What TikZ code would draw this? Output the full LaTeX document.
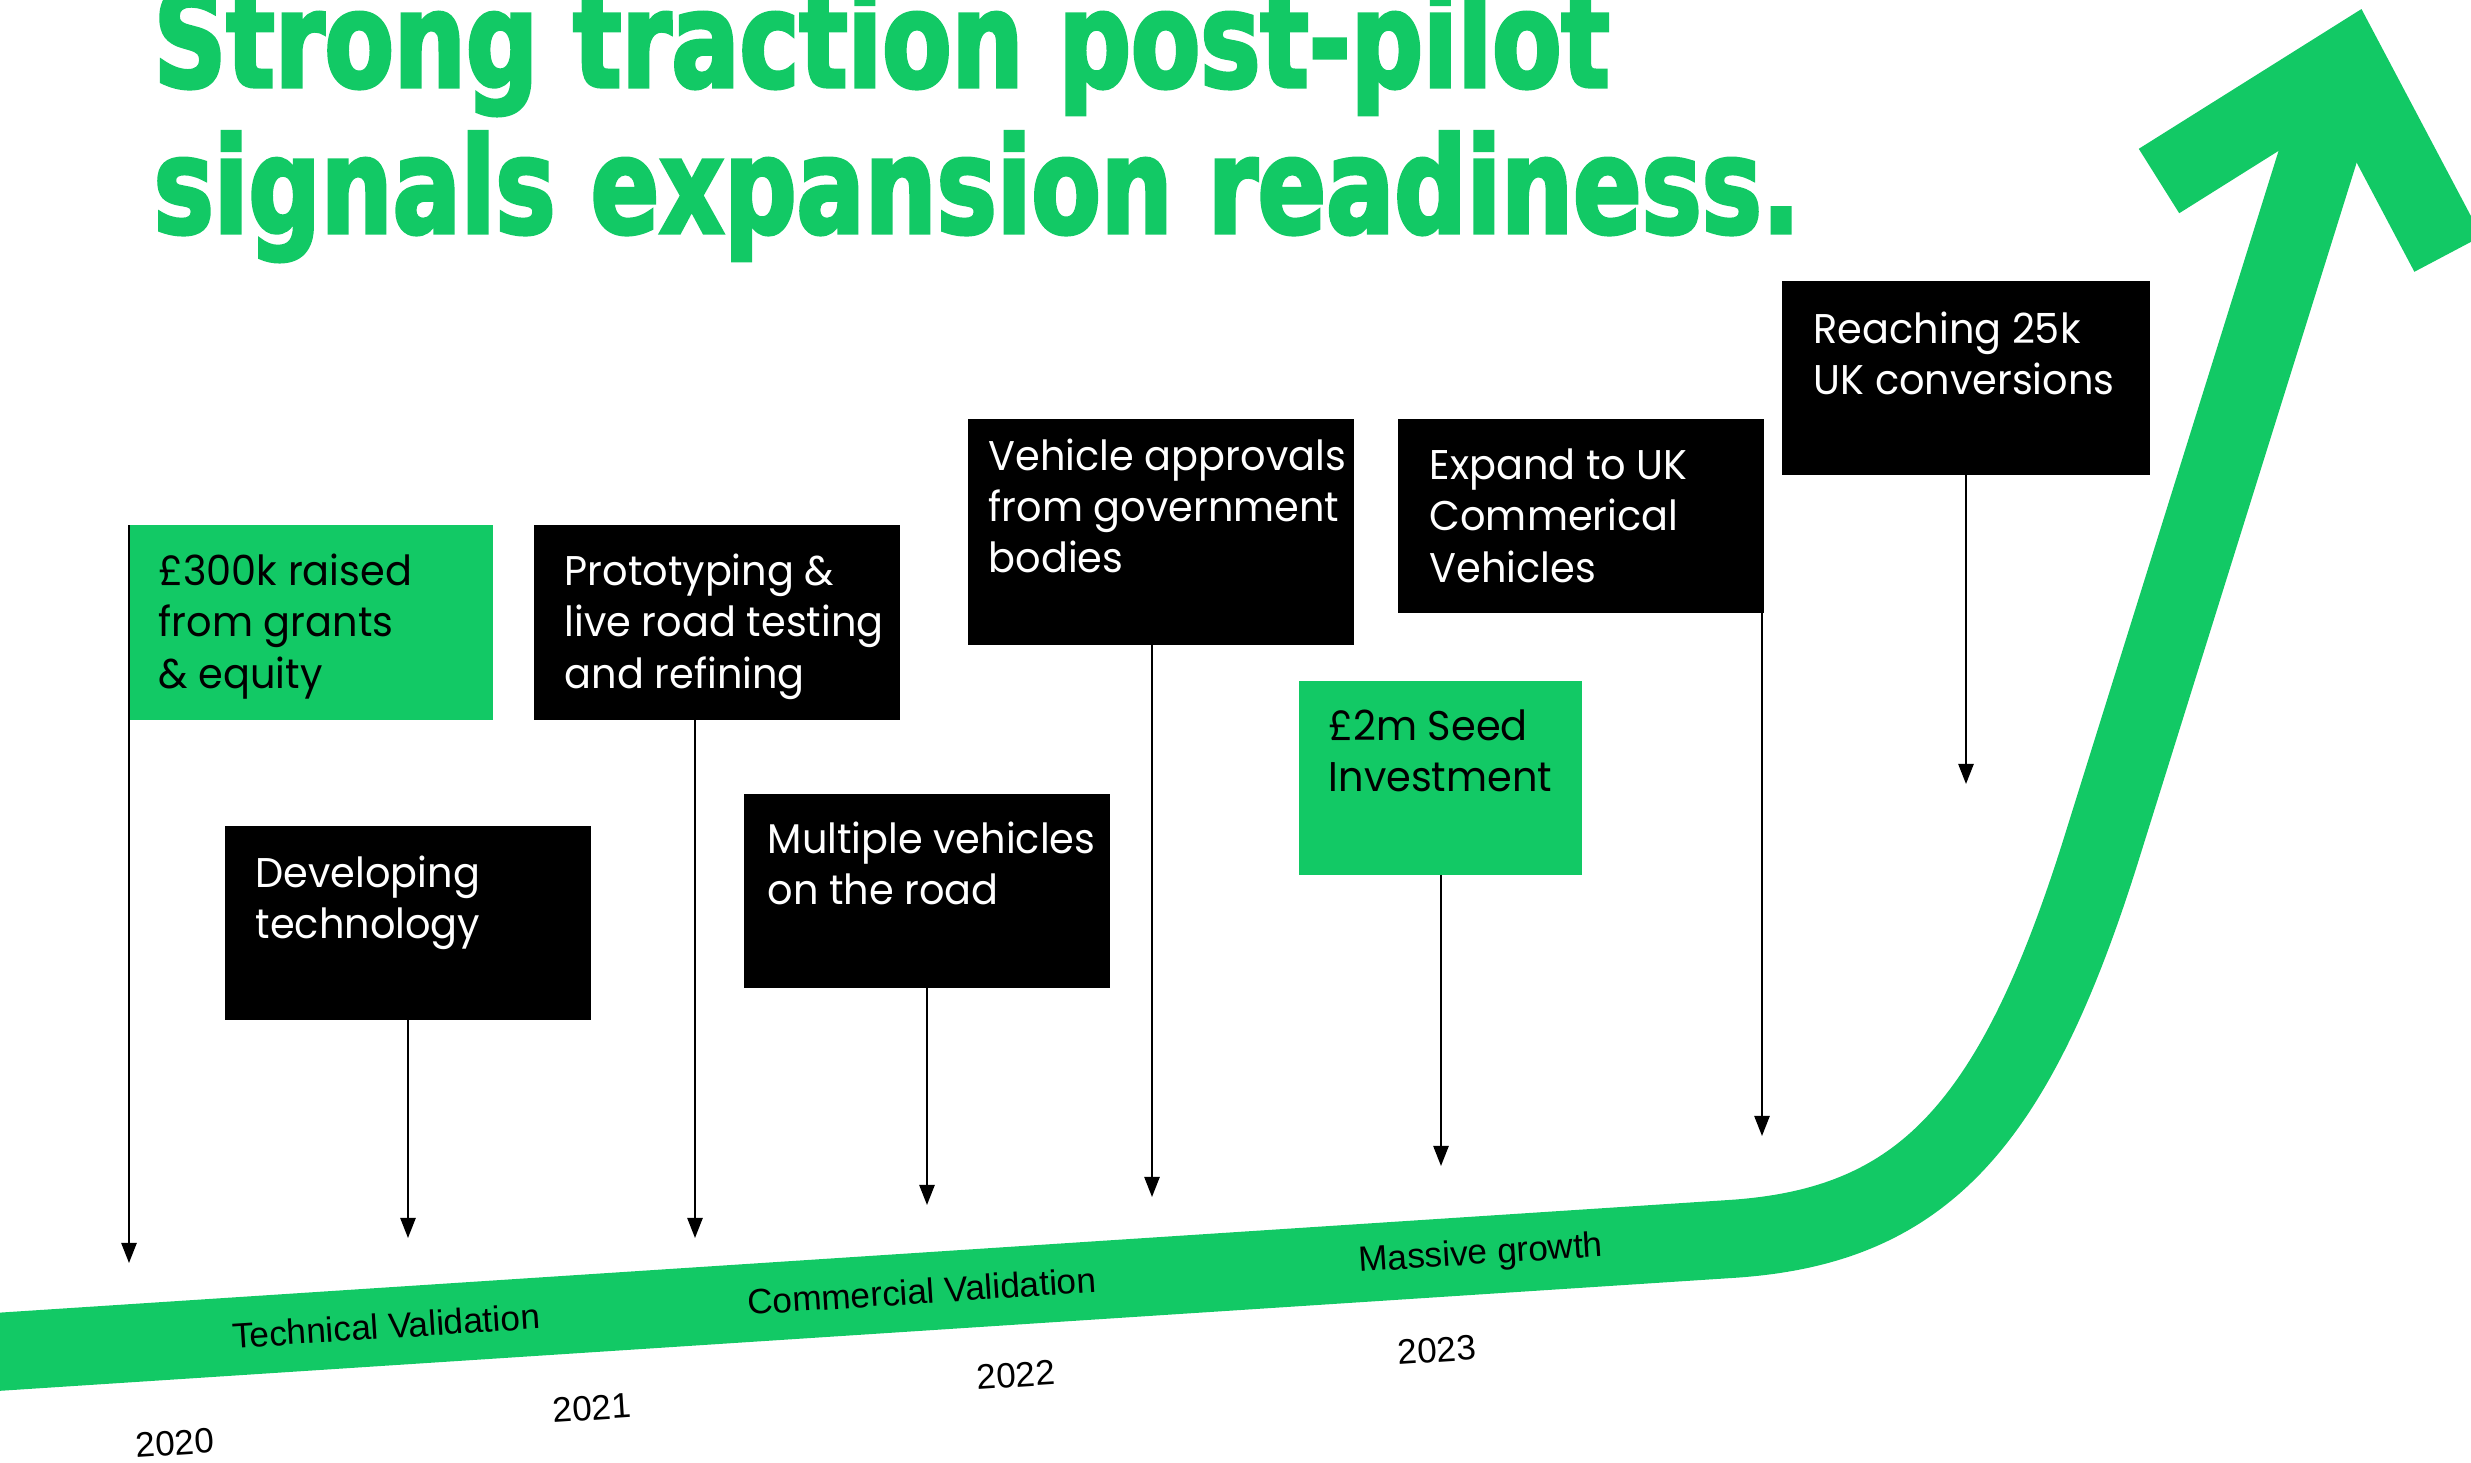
\documentclass[tikz,border=0pt]{standalone}
\usepackage{fontspec}
\setmainfont[FakeStretch=0.96]{Poppins}
\newfontfamily\titlefont[FakeStretch=0.84,FakeBold=2.5]{DejaVu Sans Condensed}
\newfontfamily\bandfont{Liberation Sans}
\usetikzlibrary{arrows.meta,positioning}
\definecolor{brandgreen}{RGB}{18,201,101}

\begin{document}
\begin{tikzpicture}[x=0.01cm, y=-0.01cm,
  box/.style={anchor=north west, inner sep=0pt, outer sep=0pt, minimum width=3.66cm, minimum height=1.94cm, fill=black},
  boxtext/.style={inner sep=0pt, align=left, text=white, font=\fontsize{11.8}{14.6}\selectfont},
  pointer/.style={line width=0.6pt, -{Triangle[length=5.7pt,width=4.3pt]}},
  stage/.style={rotate=3.7, inner sep=0pt, font=\bandfont\fontsize{10}{12}\selectfont},
  year/.style={rotate=3.7, inner sep=0pt, font=\bandfont\fontsize{10}{12}\selectfont}]

\useasboundingbox (0,0) rectangle (2471,1462);
\clip (0,0) rectangle (2471,1462);

\node[anchor=base west, inner sep=0pt, text=brandgreen, font=\titlefont\bfseries\fontsize{38}{40}\selectfont] at (153,87) (title1) {Strong traction post-pilot};
\node[anchor=base west, inner sep=0pt, text=brandgreen, font=\titlefont\bfseries\fontsize{38}{40}\selectfont] at (153,233) (title2) {signals expansion readiness.};

\draw[brandgreen, line width=0.78cm] (-20,1353) -- (1730,1239) .. controls (1920,1227) and (2013,1130) .. (2101,850) -- (2340,85);
\draw[brandgreen, line width=0.76cm] (2159,181) -- (2347,63) -- (2448,254);

\node[box, fill=brandgreen, minimum width=3.64cm, minimum height=1.95cm] at (129,525) (fund) {};
\node[box] at (225,826) (dev) {};
\node[box, minimum height=1.95cm] at (534,525) (proto) {};
\node[box] at (744,794) (multi) {};
\node[box, minimum width=3.86cm, minimum height=2.26cm] at (968,419) (approv) {};
\node[box, fill=brandgreen, minimum width=2.83cm] at (1299,681) (seed) {};
\node[box] at (1398,419) (expand) {};
\node[box, minimum width=3.68cm] at (1782,281) (reach) {};

\node[boxtext, text=black, below right=0.28cm and 0.29cm of fund.north west] (fund-txt) {£300k raised\\from grants\\\& equity};
\node[boxtext, below right=0.29cm and 0.30cm of dev.north west] (dev-txt) {Developing\\technology};
\node[boxtext, below right=0.28cm and 0.30cm of proto.north west] (proto-txt) {Prototyping \&\\live road testing\\and refining};
\node[boxtext, below right=0.27cm and 0.23cm of multi.north west] (multi-txt) {Multiple vehicles\\on the road};
\node[boxtext, below right=0.19cm and 0.20cm of approv.north west] (approv-txt) {Vehicle approvals\\from government\\bodies};
\node[boxtext, text=black, below right=0.28cm and 0.29cm of seed.north west] (seed-txt) {£2m Seed\\Investment};
\node[boxtext, below right=0.29cm and 0.31cm of expand.north west] (expand-txt) {Expand to UK\\Commerical\\Vehicles};
\node[boxtext, below right=0.30cm and 0.31cm of reach.north west] (reach-txt) {Reaching 25k\\UK conversions};

\coordinate (fund-end) at (129,1263);
\coordinate (dev-end) at (408,1238);
\coordinate (proto-end) at (695,1238);
\coordinate (multi-end) at (927,1205);
\coordinate (approv-end) at (1152,1197);
\coordinate (seed-end) at (1441,1166);
\coordinate (expand-end) at (1762,1136);
\coordinate (reach-end) at (1966,784);

\draw[pointer] (fund.north west) to (fund-end);
\draw[pointer] (dev.south -| dev-end) to (dev-end);
\draw[pointer] (proto.south -| proto-end) to (proto-end);
\draw[pointer] (multi.south -| multi-end) to (multi-end);
\draw[pointer] (approv.south -| approv-end) to (approv-end);
\draw[pointer] (seed.south -| seed-end) to (seed-end);
\draw[pointer] (expand.south -| expand-end) to (expand-end);
\draw[pointer] (reach.south -| reach-end) to (reach-end);

\node[stage] at (386,1326) (tech) {Technical Validation};
\node[stage] at (922,1291) (comm) {Commercial Validation};
\node[stage] at (1481,1255) (growth) {Massive growth};

\node[year] at (175,1443) (y2020) {2020};
\node[year] at (592,1408) (y2021) {2021};
\node[year] at (1016,1375) (y2022) {2022};
\node[year] at (1437,1350) (y2023) {2023};
\end{tikzpicture}
\end{document}
